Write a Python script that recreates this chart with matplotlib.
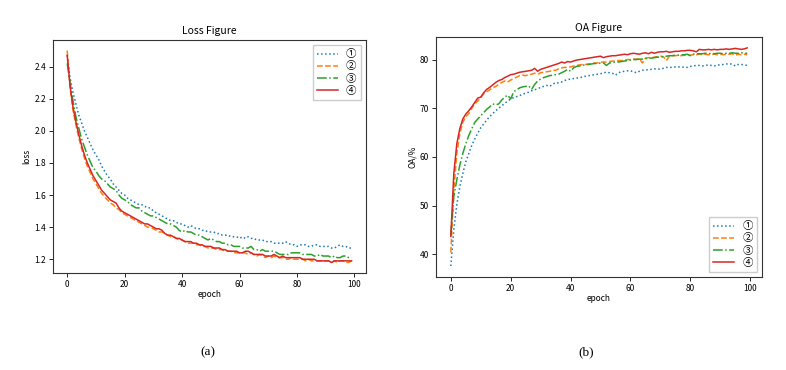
import numpy as np
import matplotlib
matplotlib.use('Agg')
import matplotlib.pyplot as plt

plt.rcParams['font.family'] = ['Noto Sans CJK SC', 'DejaVu Sans']

epochs = np.arange(100)
names = ['①', '②', '③', '④']

# loss curves
loss1 = [2.47, 2.33, 2.24, 2.17, 2.10, 2.05, 2.00, 1.96, 1.92, 1.88, 1.85, 1.82, 1.78, 1.75, 1.72,
         1.70, 1.67, 1.65, 1.63, 1.61, 1.60, 1.58, 1.57, 1.56, 1.55, 1.54, 1.54, 1.53, 1.52, 1.52,
         1.50, 1.49, 1.48, 1.47, 1.46, 1.45, 1.44, 1.44, 1.43, 1.42, 1.42, 1.41, 1.40, 1.41, 1.40,
         1.39, 1.39, 1.38, 1.38, 1.37, 1.37, 1.37, 1.36, 1.36, 1.35, 1.35, 1.35, 1.34, 1.34, 1.34,
         1.33, 1.34, 1.33, 1.34, 1.33, 1.33, 1.32, 1.32, 1.32, 1.31, 1.31, 1.31, 1.30, 1.30, 1.30,
         1.30, 1.31, 1.30, 1.29, 1.29, 1.28, 1.29, 1.29, 1.29, 1.28, 1.28, 1.29, 1.29, 1.28, 1.28,
         1.28, 1.28, 1.27, 1.27, 1.28, 1.29, 1.28, 1.28, 1.27, 1.27]
loss2 = [2.50, 2.27, 2.13, 2.04, 1.96, 1.89, 1.83, 1.78, 1.74, 1.70, 1.67, 1.64, 1.61, 1.59, 1.57,
         1.55, 1.54, 1.52, 1.51, 1.49, 1.48, 1.47, 1.46, 1.45, 1.44, 1.43, 1.42, 1.41, 1.40, 1.40,
         1.39, 1.38, 1.37, 1.37, 1.36, 1.35, 1.34, 1.34, 1.33, 1.32, 1.32, 1.31, 1.30, 1.30, 1.30,
         1.29, 1.29, 1.28, 1.28, 1.27, 1.27, 1.27, 1.26, 1.26, 1.26, 1.25, 1.25, 1.25, 1.24, 1.24,
         1.24, 1.24, 1.24, 1.23, 1.24, 1.23, 1.22, 1.23, 1.22, 1.21, 1.22, 1.21, 1.22, 1.21, 1.21,
         1.21, 1.20, 1.20, 1.21, 1.20, 1.20, 1.20, 1.20, 1.19, 1.20, 1.19, 1.19, 1.19, 1.19, 1.19,
         1.19, 1.19, 1.18, 1.19, 1.18, 1.19, 1.19, 1.18, 1.18, 1.19]
loss3 = [2.42, 2.30, 2.19, 2.09, 2.02, 1.95, 1.90, 1.85, 1.81, 1.77, 1.75, 1.72, 1.70, 1.69, 1.67,
         1.65, 1.64, 1.63, 1.60, 1.58, 1.57, 1.56, 1.54, 1.53, 1.52, 1.52, 1.50, 1.49, 1.48, 1.47,
         1.47, 1.46, 1.45, 1.44, 1.43, 1.42, 1.42, 1.41, 1.40, 1.38, 1.37, 1.38, 1.37, 1.37, 1.36,
         1.35, 1.35, 1.34, 1.33, 1.32, 1.33, 1.32, 1.31, 1.31, 1.30, 1.30, 1.29, 1.29, 1.28, 1.28,
         1.28, 1.27, 1.27, 1.27, 1.28, 1.26, 1.26, 1.25, 1.26, 1.25, 1.25, 1.25, 1.25, 1.24, 1.23,
         1.23, 1.23, 1.23, 1.24, 1.24, 1.24, 1.24, 1.23, 1.23, 1.23, 1.23, 1.22, 1.22, 1.23, 1.22,
         1.22, 1.22, 1.21, 1.22, 1.21, 1.21, 1.22, 1.22, 1.21, 1.21]
loss4 = [2.47, 2.28, 2.15, 2.06, 1.98, 1.91, 1.85, 1.80, 1.76, 1.72, 1.69, 1.66, 1.63, 1.61, 1.59,
         1.57, 1.56, 1.55, 1.52, 1.50, 1.49, 1.48, 1.47, 1.46, 1.45, 1.44, 1.43, 1.42, 1.42, 1.41,
         1.40, 1.39, 1.39, 1.38, 1.36, 1.35, 1.35, 1.34, 1.33, 1.33, 1.32, 1.31, 1.31, 1.31, 1.30,
         1.30, 1.29, 1.29, 1.28, 1.28, 1.28, 1.27, 1.27, 1.27, 1.26, 1.26, 1.25, 1.25, 1.25, 1.25,
         1.24, 1.24, 1.25, 1.25, 1.24, 1.23, 1.23, 1.23, 1.23, 1.22, 1.22, 1.22, 1.23, 1.22, 1.21,
         1.22, 1.21, 1.21, 1.21, 1.21, 1.21, 1.21, 1.20, 1.20, 1.20, 1.20, 1.20, 1.19, 1.19, 1.19,
         1.19, 1.19, 1.18, 1.19, 1.19, 1.19, 1.19, 1.19, 1.19, 1.19]

# OA curves (%)
oa1 = [37.6, 45.1, 50.2, 53.9, 56.6, 59.0, 60.7, 62.4, 63.7, 64.9, 66.0, 66.8, 67.6, 68.3, 68.9,
       69.5, 70.0, 70.5, 71.0, 71.5, 71.9, 72.2, 72.4, 72.6, 72.9, 73.1, 73.3, 73.6, 73.8, 74.0,
       74.3, 74.5, 74.7, 74.5, 74.9, 75.3, 75.2, 75.4, 75.7, 75.9, 76.0, 76.1, 76.2, 76.3, 76.4,
       76.6, 76.7, 76.8, 76.9, 77.0, 77.1, 77.3, 77.4, 77.3, 77.2, 76.8, 77.3, 77.5, 77.6, 77.7,
       77.7, 77.5, 77.3, 77.6, 77.8, 77.9, 77.9, 78.0, 78.1, 78.0, 78.1, 78.2, 78.4, 78.4, 78.4,
       78.5, 78.5, 78.5, 78.4, 78.4, 78.6, 78.7, 78.8, 78.8, 78.7, 78.8, 78.9, 78.8, 78.7, 78.9,
       78.9, 79.0, 79.1, 79.1, 79.1, 78.7, 79.0, 79.0, 78.9, 78.8]
oa2 = [40.4, 53.2, 60.7, 64.8, 67.1, 68.3, 68.9, 70.0, 70.9, 71.5, 72.2, 73.0, 73.4, 73.8, 74.2,
       74.5, 74.9, 75.3, 75.6, 75.4, 75.8, 76.1, 76.4, 76.7, 76.8, 76.7, 76.9, 77.0, 77.2, 77.0,
       77.3, 77.4, 77.5, 77.6, 77.8, 77.8, 78.1, 78.3, 78.4, 78.4, 78.5, 78.7, 78.8, 78.9, 79.0,
       79.0, 79.1, 79.2, 79.3, 79.3, 79.5, 79.5, 79.5, 79.6, 79.7, 79.7, 79.8, 79.8, 79.9, 80.0,
       80.0, 80.1, 80.1, 80.2, 79.3, 80.3, 80.4, 80.4, 80.5, 80.6, 80.7, 80.6, 79.8, 80.7, 80.8,
       80.8, 80.9, 80.8, 80.9, 81.0, 80.9, 81.0, 81.0, 81.1, 81.0, 81.1, 81.0, 81.1, 81.1, 81.0,
       81.1, 81.0, 81.1, 81.1, 81.2, 80.9, 81.1, 81.0, 81.1, 81.0]
oa3 = [44.0, 51.9, 55.3, 58.3, 60.7, 62.7, 64.4, 65.8, 67.1, 67.8, 68.5, 69.1, 69.8, 70.3, 70.9,
       70.7, 70.9, 71.7, 72.3, 72.7, 71.9, 73.4, 73.8, 74.2, 74.4, 74.5, 74.6, 73.9, 74.9, 75.6,
       76.0, 76.3, 76.5, 76.7, 76.8, 76.9, 77.0, 77.3, 77.6, 78.0, 77.6, 78.3, 78.6, 78.7, 78.8,
       79.0, 79.0, 79.1, 79.2, 79.2, 79.3, 79.3, 78.8, 79.3, 79.4, 79.5, 79.5, 79.6, 79.7, 79.8,
       79.9, 80.0, 80.0, 80.1, 80.1, 80.2, 80.3, 80.3, 80.4, 80.5, 80.5, 80.6, 80.7, 80.8, 80.8,
       80.9, 80.9, 81.0, 81.0, 81.1, 80.8, 81.1, 81.2, 81.2, 81.2, 81.3, 81.2, 81.3, 81.2, 81.3,
       81.3, 81.2, 81.3, 81.3, 81.4, 81.3, 81.3, 81.4, 81.3, 81.3]
oa4 = [43.7, 56.6, 62.7, 65.8, 67.8, 68.8, 69.5, 70.3, 71.2, 72.1, 72.3, 73.2, 73.9, 74.3, 74.8,
       75.3, 75.7, 75.9, 76.3, 76.6, 76.9, 77.0, 77.2, 77.4, 77.5, 77.6, 77.7, 77.8, 78.2, 77.6,
       78.0, 78.2, 78.4, 78.6, 78.8, 79.0, 79.2, 79.5, 79.3, 79.6, 79.5, 79.7, 79.9, 80.0, 80.1,
       80.2, 80.3, 80.4, 80.5, 80.6, 80.7, 80.4, 80.6, 80.7, 80.8, 80.8, 80.9, 81.0, 81.1, 81.0,
       81.2, 81.3, 81.2, 81.1, 81.3, 81.4, 81.2, 81.5, 81.3, 81.5, 81.6, 81.6, 81.7, 81.5, 81.6,
       81.7, 81.7, 81.8, 81.8, 81.9, 81.9, 81.8, 81.6, 82.1, 82.0, 82.0, 82.1, 82.0, 82.1, 82.0,
       82.1, 82.1, 82.2, 82.1, 82.2, 82.3, 82.2, 82.1, 82.2, 82.4]

styles = [':', '--', '-.', '-']
colors = ['#1f77b4', '#ff7f0e', '#2ca02c', '#d62728']

fig = plt.figure(figsize=(7.86, 3.70), dpi=100)
ax1 = fig.add_axes([0.0674, 0.262, 0.398, 0.630])
ax2 = fig.add_axes([0.5547, 0.2514, 0.4148, 0.6486])

for ys, ls, c, n in zip([loss1, loss2, loss3, loss4], styles, colors, names):
    ax1.plot(epochs, ys, linestyle=ls, color=c, lw=1.1, label=n)
for ys, ls, c, n in zip([oa1, oa2, oa3, oa4], styles, colors, names):
    ax2.plot(epochs, ys, linestyle=ls, color=c, lw=1.1, label=n)

ax1.set_title('Loss Figure', fontsize=7.5, pad=4)
ax1.set_xlabel('epoch', fontsize=6, labelpad=1)
ax1.set_ylabel('loss', fontsize=6, labelpad=2)
ax1.set_xticks([0, 20, 40, 60, 80, 100])
ax1.set_yticks([1.2, 1.4, 1.6, 1.8, 2.0, 2.2, 2.4])
ax1.legend(loc='upper right', fontsize=7.5, handlelength=2.0, borderpad=0.4,
           labelspacing=0.2, framealpha=1, fancybox=False)

ax2.set_title('OA Figure', fontsize=7.5, pad=4)
ax2.set_xlabel('epoch', fontsize=6, labelpad=1)
ax2.set_ylabel('OA/%', fontsize=6, labelpad=2)
ax2.set_xticks([0, 20, 40, 60, 80, 100])
ax2.set_yticks([40, 50, 60, 70, 80])
ax2.legend(loc='lower right', fontsize=7.5, handlelength=2.0, borderpad=0.4,
           labelspacing=0.2, framealpha=1, fancybox=False)

for ax in (ax1, ax2):
    ax.tick_params(labelsize=6, length=3, width=0.6, pad=2)
    for s in ax.spines.values():
        s.set_linewidth(0.8)
        s.set_color('#333333')

fig.text(208 / 786, 1 - 352 / 370, '(a)', ha='center', va='center',
         fontsize=9.5, family='Liberation Serif')
fig.text(586 / 786, 1 - 352 / 370, '(b)', ha='center', va='center',
         fontsize=9.5, family='Liberation Serif')

fig.savefig('out.png', dpi=100)
